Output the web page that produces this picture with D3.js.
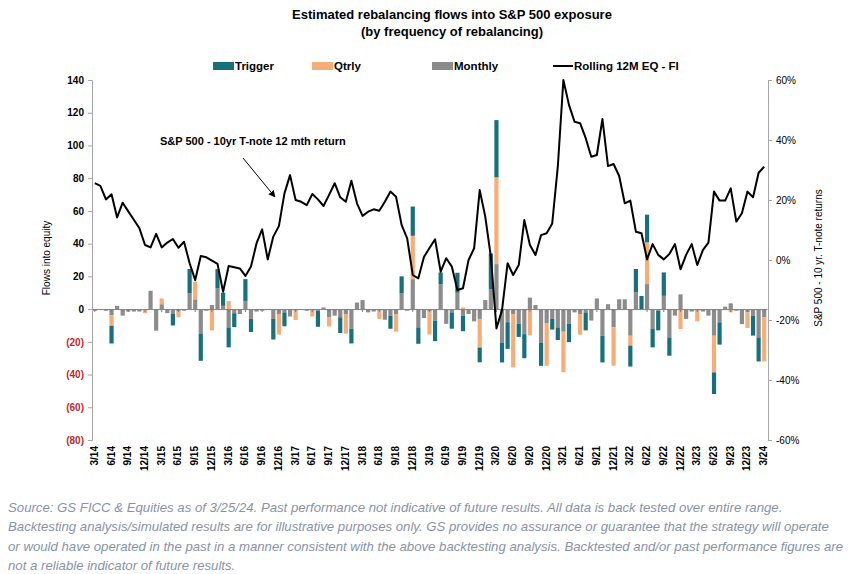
<!DOCTYPE html>
<html>
<head>
<meta charset="utf-8">
<script src="https://cdn.jsdelivr.net/npm/d3@7"></script>
<style>
  body { margin: 0; background: #fff; }
  svg { display: block; }
</style>
</head>
<body>
<svg id="chart" width="858" height="574"></svg>
<script>
"use strict";

// months 3/14 .. 3/24, one bar per month
const months = d3.timeMonth.range(new Date(2014, 2, 1), new Date(2024, 3, 1));

const tickLabels = [
  "3/14","6/14","9/14","12/14","3/15","6/15","9/15","12/15","3/16","6/16","9/16","12/16",
  "3/17","6/17","9/17","12/17","3/18","6/18","9/18","12/18","3/19","6/19","9/19","12/19",
  "3/20","6/20","9/20","12/20","3/21","6/21","9/21","12/21","3/22","6/22","9/22","12/22",
  "3/23","6/23","9/23","12/23","3/24"
];

const leftTicks = [140, 120, 100, 80, 60, 40, 20, 0, -20, -40, -60, -80];
const rightTicks = [60, 40, 20, 0, -20, -40, -60];

// flows into equity by rebalancing frequency
const monthly = [
  -1, -0.5, -1, -3.7, 2, -4, -1.5, -1.5, -1.5, 0, 11.2, -13.2,
  3, -2.5, -3, -1.5, -1, 9.6, 6, -14.9, -1, 2.5, 12.6, 2,
  -11.2, -2.5, -3, 5, -6, -1.5, -1, -0.5, -6, -3, -2, -4.5,
  -1, -0.5, -1, -1, -1, 1, -5, -4, -5, -3, -12, 4,
  5.5, -2, -1.5, -1, -6.5, -4, -3, 9.6, -1, 18.3, -11.2, -5.5,
  -1.5, -7, 15.3, -9, -2, 10, -4, -3, -7.5, -6, 5.5, 12,
  27.5, -20.4, -8, -3, -9, -15.3, 7, 2.5, -20.4, -8.8, -6, -11.2,
  -13.8, -9, -2, -3, -2, -7, 6.5, -16.3, 3, -11.2, 6, 6,
  -16.3, 10.2, 0, 15.3, -12.2, -1, 8.1, -17.3, -4, 9, -6, -1.5,
  -1, -1.5, -4, -16.3, -8.1, 1.5, 3.5, -1, -9.2, -2, -4, -17.3,
  -5
];
const qtrly = [
  0, 0, 0, -6.5, 0, 0, 0, 0, 0, -2.5, 0, 0,
  3.5, 0, 0, -3.5, 0, 0, 10.8, 0, 0, -13, 0, 0,
  4.9, 0, 0, 0, 0, 0, 0, 0, 0, -12.6, 0, 0,
  -5.7, 0, 0, -3.5, 0, 0, -5.6, 0, 0, -12, 0, 0,
  0, 0, 0, -5, 0, 0, -10.8, 0, 0, 26.5, 0, 0,
  -14, 0, 0, 0, 0, 0, 1, 0, 0, -17.5, 0, 0,
  53, 0, 0, -32.6, 0, 0, -16, 0, 0, -25.9, 0, 0,
  -24.8, 0, 0, -12.6, 0, 0, 0, 0, 0, -23.4, 0, 0,
  -6, 0, 0, 25.5, 0, 0, 0, 0, 0, -12.2, 0, 0,
  -6.5, 0, 0, -22.4, 0, 0, -2, 0, 0, -9.6, 0, 0,
  -27
];
const trigger = [
  0, 0, 0, -10.8, 0, 0, 0, 0, 0, 0, 0, 0,
  0, 0, -7, 0, 0, 14.9, 0, -16.7, 0, 0, 11.8, 8,
  -12.2, -8.5, 0, 13.3, -8, 0, 0, 0, -12.6, 0, -8.5, 0,
  0, 0, 0, 0, -9.8, 0, 0, 0, -9.6, 0, -9, 0,
  0, 0, 0, 0, 0, -8, 0, 10.4, 0, 17.9, -10, 0,
  0, -12.6, 7.1, 0, -10, 12.2, -9.5, 0, 0, -9, 0, 22,
  35, -12.2, -16.3, 0, -8, -14.7, 0, 0, -14.3, 0, -6.5, -7.7,
  0, -11.2, 0, 0, -11, 0, 0, -16.3, 0, 0, 0, 0,
  -12.8, 14.3, 8, 16.9, -11.2, -12, 14.3, -11.2, 0, 0, 0, 0,
  0, 0, 0, -13.2, -13.6, 0, 0, 0, 0, 0, -12.2, -14.7,
  0
];
// S&P 500 - 10yr T-note rolling 12m return, %
const rolling = [
  25.6, 24.7, 20.2, 21.9, 14.2, 19.1, 16.2, 13.4, 10.6, 5, 4.2, 8.7,
  4.2, 5.8, 7, 4.1, 6.1, -1.1, -6.7, 1.3, 0.9, -0.2, -1.3, -10.6,
  -2, -2.4, -2.8, -5.3, -2.2, 5.6, 10.2, 0.2, 7.8, 11.3, 22.2, 28.3,
  20, 19.4, 18.3, 22, 20.2, 18, 21.7, 25.6, 20.9, 19.4, 26.4, 18.9,
  14.7, 16.1, 16.9, 16.4, 19.4, 22.8, 21.1, 11.7, 7.2, -5, -6.1, 1,
  4, 6.9, -3.9, 0.6, -2.2, -10, -9.4, 0, 3.9, 23.3, 14.4, 1.1,
  -22.8, -16.7, -1.1, -5, -1.7, 13.3, 5, 1.7, 8.3, 8.9, 12.2, 31.1,
  60, 51.7, 46.1, 45.6, 40.6, 34.4, 35, 47, 31.3, 32, 28, 18.9,
  19.8, 9.4, 8.9, 0.2, 5.3, 1.7, 0.2, 2, 5.3, -3.1, 1.7, 5.3,
  -1.7, 3.3, 5.8, 22.8, 19.8, 19.8, 23.9, 12.8, 15.6, 22.8, 20.9, 29.1,
  31.1
];

const seriesKeys = ["monthly", "qtrly", "trigger"];
const colors = { trigger: "#17707b", qtrly: "#f7ad78", monthly: "#8c8c8c" };

const svg = d3.select("#chart");
const font = "'Liberation Sans', Arial, sans-serif";

const rows = months.map((m, i) => ({
  month: m, monthly: monthly[i], qtrly: qtrly[i], trigger: trigger[i]
}));

const x = d3.scaleBand()
  .domain(d3.range(months.length))
  .range([92, 767])
  .paddingInner(0.25)
  .paddingOuter(0.125);

const yL = d3.scaleLinear().domain([-80, 140]).range([440, 80]);
const yR = d3.scaleLinear().domain([-60, 60]).range([440, 80]);

// === Titles ===
svg.append("text").attr("x", 452).attr("y", 19)
  .attr("text-anchor", "middle").attr("font-family", font)
  .attr("font-weight", "bold").attr("font-size", 13)
  .text("Estimated rebalancing flows into S&P 500 exposure");
svg.append("text").attr("x", 452).attr("y", 36)
  .attr("text-anchor", "middle").attr("font-family", font)
  .attr("font-weight", "bold").attr("font-size", 13)
  .text("(by frequency of rebalancing)");

// === Legend ===
const legendItems = [
  { key: "trigger", label: "Trigger", x: 213 },
  { key: "qtrly", label: "Qtrly", x: 312 },
  { key: "monthly", label: "Monthly", x: 432 }
];
legendItems.forEach(d => {
  svg.append("rect").attr("x", d.x).attr("y", 62)
    .attr("width", 21).attr("height", 8).attr("fill", colors[d.key]);
  svg.append("text").attr("x", d.x + 22).attr("y", 70)
    .attr("font-family", font).attr("font-weight", "bold").attr("font-size", 11.5)
    .text(d.label);
});
svg.append("line").attr("x1", 553).attr("x2", 573).attr("y1", 66).attr("y2", 66)
  .attr("stroke", "#000").attr("stroke-width", 2);
svg.append("text").attr("x", 574).attr("y", 70)
  .attr("font-family", font).attr("font-weight", "bold").attr("font-size", 11.5)
  .text("Rolling 12M EQ - FI");

// === Bars ===
const stacked = d3.stack().keys(seriesKeys).offset(d3.stackOffsetDiverging)(rows);

svg.append("g").selectAll("g")
  .data(stacked)
  .join("g")
  .attr("fill", d => colors[d.key])
  .selectAll("rect")
  .data(d => d)
  .join("rect")
  .attr("x", (d, i) => x(i))
  .attr("width", x.bandwidth())
  .attr("y", d => yL(Math.max(d[0], d[1])))
  .attr("height", d => Math.abs(yL(d[0]) - yL(d[1])));

// === Zero / category axis ===
const quarterIdx = d3.range(0, months.length, 3);
const zeroAxis = svg.append("g")
  .attr("transform", `translate(0,${yL(0)})`)
  .call(d3.axisBottom(x).tickValues(quarterIdx).tickFormat("").tickSize(3).tickSizeOuter(0));
zeroAxis.selectAll("path, line").attr("stroke", "#7f7f7f");

// x tick labels at the bottom
svg.append("g").selectAll("text")
  .data(quarterIdx)
  .join("text")
  .attr("transform", (d, i) =>
    `translate(${x(d) + x.bandwidth() / 2 + 3},446) rotate(-90)`)
  .attr("text-anchor", "end")
  .attr("font-family", font).attr("font-weight", "bold").attr("font-size", 10)
  .text((d, i) => tickLabels[i]);

// === Left axis ===
const leftAxis = svg.append("g")
  .attr("transform", "translate(92,0)")
  .call(d3.axisLeft(yL).tickValues(leftTicks).tickSize(4)
    .tickFormat(d => d < 0 ? `(${-d})` : d));
leftAxis.select(".domain").attr("stroke", "#a6a6a6");
leftAxis.selectAll("line").attr("stroke", "#a6a6a6");
leftAxis.selectAll("text")
  .attr("font-family", font).attr("font-weight", "bold").attr("font-size", 10)
  .attr("fill", d => d < 0 ? "#c0272d" : "#000")
  .attr("x", -8);

svg.append("text")
  .attr("transform", "translate(50,258) rotate(-90)")
  .attr("text-anchor", "middle")
  .attr("font-family", font).attr("font-size", 10)
  .text("Flows into equity");

// === Right axis ===
const rightAxis = svg.append("g")
  .attr("transform", "translate(768,0)")
  .call(d3.axisRight(yR).tickValues(rightTicks).tickSize(4)
    .tickFormat(d => d + "%"));
rightAxis.select(".domain").attr("stroke", "#a6a6a6");
rightAxis.selectAll("line").attr("stroke", "#a6a6a6");
rightAxis.selectAll("text")
  .attr("font-family", font).attr("font-size", 10)
  .attr("fill", "#000")
  .attr("x", 8);

svg.append("text")
  .attr("transform", "translate(822,258) rotate(-90)")
  .attr("text-anchor", "middle")
  .attr("font-family", font).attr("font-size", 10)
  .text("S&P 500 - 10 yr. T-note returns");

// === Rolling 12M line ===
const line = d3.line()
  .x((d, i) => x(i) + x.bandwidth() / 2)
  .y(d => yR(d));
svg.append("path")
  .datum(rolling)
  .attr("fill", "none")
  .attr("stroke", "#000")
  .attr("stroke-width", 2)
  .attr("stroke-linejoin", "round")
  .attr("d", line);

// === Annotation ===
svg.append("defs").append("marker")
  .attr("id", "arrow").attr("viewBox", "0 0 10 10")
  .attr("refX", 9).attr("refY", 5)
  .attr("markerWidth", 7).attr("markerHeight", 7)
  .attr("orient", "auto")
  .append("path").attr("d", "M0,0 L10,5 L0,10 z").attr("fill", "#000");
svg.append("text").attr("x", 160).attr("y", 145)
  .attr("font-family", font).attr("font-weight", "bold").attr("font-size", 11)
  .text("S&P 500 - 10yr T-note 12 mth return");
svg.append("line")
  .attr("x1", 243).attr("y1", 158).attr("x2", 275).attr("y2", 197)
  .attr("stroke", "#000").attr("stroke-width", 1)
  .attr("marker-end", "url(#arrow)");

// === Footnote ===
const notes = [
  "Source: GS FICC & Equities as of 3/25/24. Past performance not indicative of future results. All data is back tested over entire range.",
  "Backtesting analysis/simulated results are for illustrative purposes only. GS provides no assurance or guarantee that the strategy will operate",
  "or would have operated in the past in a manner consistent with the above backtesting analysis. Backtested and/or past performance figures are",
  "not a reliable indicator of future results."
];
svg.append("g").selectAll("text")
  .data(notes)
  .join("text")
  .attr("x", 8)
  .attr("y", (d, i) => 512 + i * 19.3)
  .attr("font-family", font).attr("font-style", "italic").attr("font-size", 13.2)
  .attr("fill", "#8893a6")
  .text(d => d);
</script>
</body>
</html>
